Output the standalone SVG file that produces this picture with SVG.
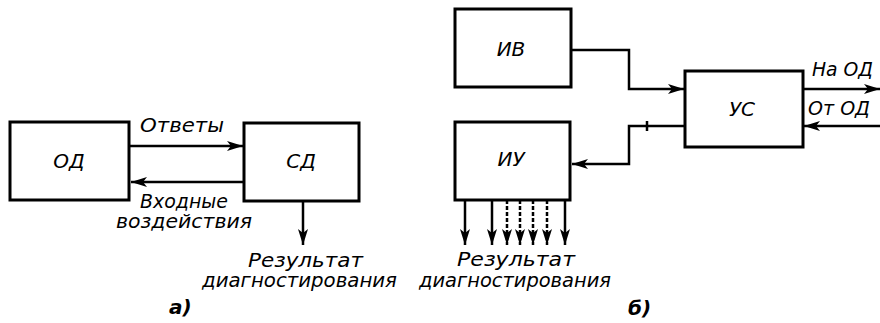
<svg xmlns="http://www.w3.org/2000/svg" width="880" height="323" viewBox="0 0 880 323">
<defs>
<style>
.box{fill:#fff;stroke:#000;stroke-width:3}
.ln{fill:none;stroke:#000;stroke-width:2.5}
.dl{fill:none;stroke:#000;stroke-width:2.5;stroke-dasharray:4 2}
text{font-family:"DejaVu Sans","Liberation Sans",sans-serif;font-style:italic;font-size:19px;fill:#000}
.c{text-anchor:middle}
.big{font-size:20px}
</style>
<marker id="ah" markerUnits="userSpaceOnUse" markerWidth="18" markerHeight="12" refX="16" refY="6" orient="auto" viewBox="0 0 18 12">
<path d="M0,1 L16,6 L0,11 L4,6 z" fill="#000"/>
</marker>
</defs>
<g id="n-od"><rect class="box" x="10" y="122" width="119" height="78"/><text class="c big" x="69" y="168">ОД</text></g>
<g id="n-sd"><rect class="box" x="244" y="123" width="115" height="78"/><text class="c big" x="301" y="168">СД</text></g>
<g id="n-iv"><rect class="box" x="455" y="9" width="116" height="78"/><text class="c big" x="511" y="56">ИВ</text></g>
<g id="n-iu"><rect class="box" x="455" y="122" width="115" height="78"/><text class="c big" x="511" y="166">ИУ</text></g>
<g id="n-us"><rect class="box" x="685" y="71" width="118" height="76"/><text class="c big" x="742" y="116">УС</text></g>
<g id="connectors">
<line class="ln" x1="130" y1="146" x2="243" y2="146" marker-end="url(#ah)"/>
<line class="ln" x1="243" y1="182" x2="131" y2="182" marker-end="url(#ah)"/>
<line class="ln" x1="303" y1="201" x2="303" y2="245" marker-end="url(#ah)"/>
<polyline class="ln" points="571,50 629,50 629,89 684,89" marker-end="url(#ah)"/>
<polyline class="ln" points="685,126 629,126 629,164 572,164" marker-end="url(#ah)"/>
<line class="ln" x1="647" y1="121" x2="647" y2="131" stroke-width="1.5"/>
<line class="ln" x1="803" y1="89" x2="880" y2="89" marker-end="url(#ah)"/>
<line class="ln" x1="880" y1="126" x2="804" y2="126" marker-end="url(#ah)"/>
<line class="ln" x1="465" y1="200" x2="465" y2="245" marker-end="url(#ah)"/>
<line class="ln" x1="492" y1="200" x2="492" y2="245" marker-end="url(#ah)"/>
<line class="dl" x1="507" y1="200" x2="507" y2="245" marker-end="url(#ah)"/>
<line class="dl" x1="520" y1="200" x2="520" y2="245" marker-end="url(#ah)"/>
<line class="dl" x1="533" y1="200" x2="533" y2="245" marker-end="url(#ah)"/>
<line class="dl" x1="547" y1="200" x2="547" y2="245" marker-end="url(#ah)"/>
<line class="ln" x1="565" y1="200" x2="565" y2="245" marker-end="url(#ah)"/>
</g>
<g id="labels">
<text x="140" y="132" textLength="84" lengthAdjust="spacingAndGlyphs">Ответы</text>
<text x="140" y="208" textLength="88" lengthAdjust="spacingAndGlyphs">Входные</text>
<text x="116" y="228" textLength="136" lengthAdjust="spacingAndGlyphs">воздействия</text>
<text x="248" y="267" textLength="115" lengthAdjust="spacingAndGlyphs">Результат</text>
<text x="202" y="287" textLength="195" lengthAdjust="spacingAndGlyphs">диагностирования</text>
<text x="457" y="266" textLength="118" lengthAdjust="spacingAndGlyphs">Результат</text>
<text x="419" y="287" textLength="192" lengthAdjust="spacingAndGlyphs">диагностирования</text>
<text x="812" y="76" textLength="61" lengthAdjust="spacingAndGlyphs">На ОД</text>
<text x="808" y="115" textLength="62" lengthAdjust="spacingAndGlyphs">От ОД</text>
<text class="big" x="169" y="314" font-weight="bold">а)</text>
<text class="big" x="628" y="315" font-weight="bold">б)</text>
</g>
</svg>
